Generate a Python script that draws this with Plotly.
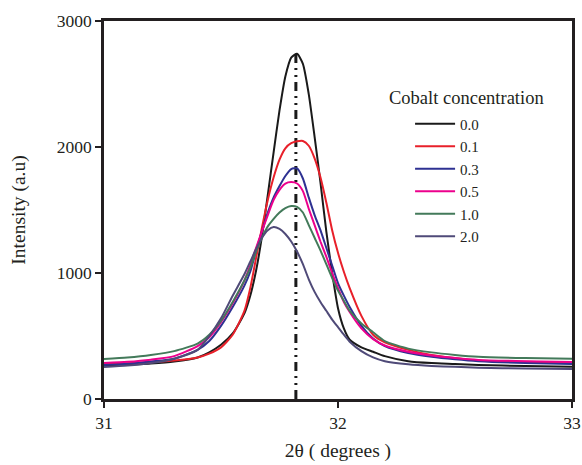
import plotly.graph_objects as go

two_theta = [31.0, 31.1, 31.2, 31.3, 31.4, 31.45, 31.5, 31.55, 31.6, 31.625, 31.65, 31.675,
             31.7, 31.725, 31.75, 31.775, 31.8, 31.825, 31.85, 31.875, 31.9, 31.925, 31.95,
             31.975, 32.0, 32.025, 32.05, 32.1, 32.15, 32.2, 32.3, 32.4, 32.5, 32.6, 32.8, 33.0]

co_00 = [262, 272, 282, 298, 330, 370, 430, 520, 680, 820, 1020, 1290,
         1620, 1960, 2290, 2560, 2710, 2740, 2660, 2420, 2080, 1720, 1330,
         1000, 720, 560, 470, 410, 375, 340, 300, 285, 278, 270, 262, 255]
co_01 = [278, 283, 292, 305, 330, 360, 410, 510, 700, 880, 1120, 1360,
         1580, 1760, 1900, 1990, 2030, 2045, 2048, 2010, 1910, 1760, 1560,
         1340, 1160, 1010, 880, 660, 510, 450, 390, 350, 325, 305, 295, 288]
co_03 = [270, 280, 298, 320, 390, 460, 580, 730, 900, 1010, 1180, 1330,
         1480, 1600, 1690, 1770, 1825, 1830, 1750, 1600, 1460, 1340, 1200,
         1060, 920, 820, 730, 580, 480, 420, 365, 335, 315, 300, 285, 278]
co_05 = [286, 295, 312, 340, 420, 490, 610, 760, 940, 1060, 1200, 1330,
         1460, 1580, 1660, 1710, 1722, 1710, 1650, 1510, 1380, 1250, 1130,
         1000, 880, 770, 690, 560, 475, 425, 375, 345, 325, 310, 300, 294]
co_10 = [317, 330, 350, 380, 440, 510, 620, 770, 940, 1040, 1170, 1280,
         1370, 1430, 1480, 1515, 1532, 1525, 1480, 1380, 1280, 1180, 1070,
         960, 860, 780, 700, 600, 530, 460, 400, 370, 350, 335, 325, 320]
co_20 = [254, 265, 285, 320, 390, 500, 640, 820, 990, 1090, 1190, 1280,
         1340, 1365, 1350, 1310, 1250, 1170, 1070, 950, 850, 770, 700,
         630, 570, 510, 455, 380, 330, 300, 275, 262, 255, 248, 242, 238]

series_names = ["0.0", "0.1", "0.3", "0.5", "1.0", "2.0"]
series_values = [co_00, co_01, co_03, co_05, co_10, co_20]
series_colors = ["#1a1a1a", "#e8202a", "#2e3192", "#ec008c", "#437a5a", "#4f4a78"]

peak_position = 31.82
peak_line_y = [0, 2740]

x_ticks = [31, 32, 33]
y_ticks = [0, 1000, 2000, 3000]

fig = go.Figure()

fig.add_trace(go.Scatter(
    x=[peak_position, peak_position], y=peak_line_y, mode="lines",
    line=dict(color="#1a1a1a", width=3, dash="9px,5px,2px,5px,2px,5px"),
    showlegend=False, hoverinfo="skip"))

for name, vals, col in zip(series_names, series_values, series_colors):
    fig.add_trace(go.Scatter(
        x=two_theta, y=vals, mode="lines", name=name,
        line=dict(color=col, width=2, shape="spline", smoothing=0.6)))

font_family = "Liberation Serif, Times New Roman, serif"

fig.update_layout(
    width=582, height=465,
    margin=dict(l=104, r=10, t=21, b=66),
    paper_bgcolor="white", plot_bgcolor="white",
    font=dict(family=font_family, size=17, color="#231f20"),
    showlegend=True,
    legend=dict(x=0.654, y=0.771, xanchor="left", yanchor="top",
                bgcolor="rgba(0,0,0,0)", font=dict(size=15, family=font_family),
                itemwidth=40, tracegroupgap=0),
    annotations=[dict(text="Cobalt concentration", x=0.604, y=0.797,
                      xref="paper", yref="paper", xanchor="left", yanchor="middle",
                      showarrow=False, font=dict(size=18.5, family=font_family))],
)

fig.update_xaxes(
    range=[31, 33], tickvals=x_ticks, ticktext=[str(v) for v in x_ticks],
    automargin=False,
    showgrid=False, zeroline=False,
    showline=True, linecolor="#231f20", linewidth=2.5, mirror=True,
    ticks="outside", ticklen=6, tickwidth=2, tickcolor="#231f20",
    title=dict(text="2θ ( degrees )", font=dict(size=19.5, family=font_family), standoff=12),
    tickfont=dict(size=17.5, family=font_family))

fig.update_yaxes(
    range=[0, 3000], tickvals=y_ticks,
    automargin=False,
    showgrid=False, zeroline=False,
    showline=True, linecolor="#231f20", linewidth=2.5, mirror=True,
    ticks="outside", ticklen=6, tickwidth=2, tickcolor="#231f20",
    title=dict(text="Intensity (a.u)", font=dict(size=19.5, family=font_family), standoff=26),
    tickfont=dict(size=17.5, family=font_family))

fig.write_html("out.html", config={"displayModeBar": False},
               post_script="document.body.style.margin='0';")
